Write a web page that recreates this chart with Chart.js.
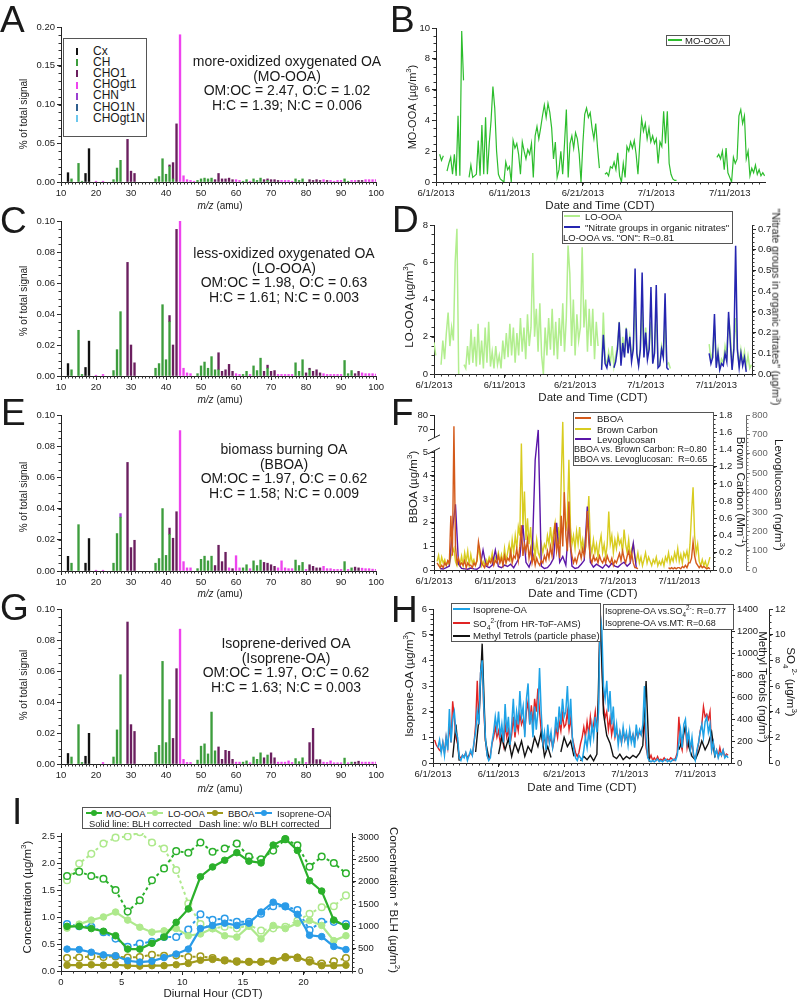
<!DOCTYPE html>
<html>
<head>
<meta charset="utf-8">
<script src="https://cdn.jsdelivr.net/npm/chart.js@4.4.0/dist/chart.umd.min.js"></script>
<style>
  body { margin:0; width:799px; height:1001px; position:relative; overflow:hidden; background:#fff;
         font-family:"Liberation Sans", Arial, sans-serif; color:#1a1a1a; }
  canvas { position:absolute; z-index:1; }
  .ov { position:absolute; z-index:2; white-space:nowrap; }
  .t { line-height:1.1; transform:translateY(-50%); }
  .c { line-height:1.1; transform:translate(-50%,-50%); }
  .v { line-height:1; transform:translate(-50%,-50%) rotate(-90deg); }
  .r { line-height:1; transform:translate(-50%,-50%) rotate(90deg); }
  .box { border:1px solid #555; background:#fff; box-sizing:border-box; }
  .letter { font-size:37px; line-height:37px; }
  .ann { font-size:14px; line-height:14.5px; text-align:center; transform:translateX(-50%); }
  .dot { width:6px; height:6px; border-radius:50%; transform:translate(-50%,-50%); }
  sub, sup { font-size:70%; line-height:0; }
</style>
</head>
<body>

<!-- panel letters -->
<div class="ov letter" style="left:0px;top:1px">A</div>
<div class="ov letter" style="left:390px;top:1px">B</div>
<div class="ov letter" style="left:0px;top:202px">C</div>
<div class="ov letter" style="left:392px;top:201px">D</div>
<div class="ov letter" style="left:1px;top:394px">E</div>
<div class="ov letter" style="left:391px;top:394px">F</div>
<div class="ov letter" style="left:0px;top:589px">G</div>
<div class="ov letter" style="left:391px;top:591px">H</div>
<div class="ov letter" style="left:12px;top:793px">I</div>

<!-- spectra annotations -->
<div class="ov ann" style="left:287px;top:54px">more-oxidized oxygenated OA<br>(MO-OOA)<br>OM:OC = 2.47, O:C = 1.02<br>H:C = 1.39; N:C = 0.006</div>
<div class="ov ann" style="left:284px;top:246px">less-oxidized oxygenated OA<br>(LO-OOA)<br>OM:OC = 1.98, O:C = 0.63<br>H:C = 1.61; N:C = 0.003</div>
<div class="ov ann" style="left:284px;top:442px">biomass burning OA<br>(BBOA)<br>OM:OC = 1.97, O:C = 0.62<br>H:C = 1.58; N:C = 0.009</div>
<div class="ov ann" style="left:286px;top:636px">Isoprene-derived OA<br>(Isoprene-OA)<br>OM:OC = 1.97, O:C = 0.62<br>H:C = 1.63; N:C = 0.003</div>

<!-- spectra axis titles -->
<div class="ov v" style="left:24px;top:114px;font-size:10px">% of total signal</div>
<div class="ov v" style="left:24px;top:301px;font-size:10px">% of total signal</div>
<div class="ov v" style="left:24px;top:497px;font-size:10px">% of total signal</div>
<div class="ov v" style="left:24px;top:685px;font-size:10px">% of total signal</div>
<div class="ov c" style="left:220px;top:205px;font-size:10px"><i>m/z</i> (amu)</div>
<div class="ov c" style="left:220px;top:399px;font-size:10px"><i>m/z</i> (amu)</div>
<div class="ov c" style="left:220px;top:593px;font-size:10px"><i>m/z</i> (amu)</div>
<div class="ov c" style="left:220px;top:788px;font-size:10px"><i>m/z</i> (amu)</div>

<!-- spectrum legend box (rows added by script) -->
<div class="ov box" style="left:63px;top:38px;width:84px;height:99px"></div>

<!-- time series axis titles -->
<div class="ov v" style="left:412px;top:107px;font-size:11px">MO-OOA (µg/m<sup>3</sup>)</div>
<div class="ov c" style="left:600px;top:205px;font-size:11.5px">Date and Time (CDT)</div>
<div class="ov v" style="left:410px;top:305px;font-size:11.5px">LO-OOA (µg/m<sup>3</sup>)</div>
<div class="ov r" style="left:776px;top:307px;font-size:10.5px">"Nitrate groups in organic nitrates" (µg/m<sup>3</sup>)</div>
<div class="ov c" style="left:593px;top:397px;font-size:11.5px">Date and Time (CDT)</div>
<div class="ov v" style="left:414px;top:487px;font-size:11.5px">BBOA (µg/m<sup>3</sup>)</div>
<div class="ov r" style="left:740px;top:492px;font-size:11.5px">Brown Carbon (Mm<sup>-1</sup>)</div>
<div class="ov r" style="left:778px;top:495px;font-size:11.5px">Levoglucosan (ng/m<sup>3</sup>)</div>
<div class="ov c" style="left:583px;top:593px;font-size:11.5px">Date and Time (CDT)</div>
<div class="ov v" style="left:410px;top:684px;font-size:11.5px">Isoprene-OA (µg/m<sup>3</sup>)</div>
<div class="ov r" style="left:762px;top:687px;font-size:11.5px">Methyl Tetrols (ng/m<sup>3</sup>)</div>
<div class="ov r" style="left:790px;top:682px;font-size:11.5px">SO<sub>4</sub><sup>2-</sup> (µg/m<sup>3</sup>)</div>
<div class="ov c" style="left:582px;top:787px;font-size:11.5px">Date and Time (CDT)</div>
<div class="ov v" style="left:28px;top:897px;font-size:11.5px">Concentration (µg/m<sup>3</sup>)</div>
<div class="ov r" style="left:393px;top:900px;font-size:11.5px">Concentration * BLH (µg/m<sup>2</sup>)</div>
<div class="ov c" style="left:213px;top:993px;font-size:11.5px">Diurnal Hour (CDT)</div>

<!-- B legend -->
<div class="ov box" style="left:666px;top:35px;width:64px;height:11px"></div>
<div class="ov" style="left:668px;top:39px;width:14px;border-top:2px solid #2dbd2d"></div>
<div class="ov t" style="left:685px;top:40.5px;font-size:9.5px">MO-OOA</div>

<!-- D legend -->
<div class="ov box" style="left:562px;top:211px;width:171px;height:33px"></div>
<div class="ov" style="left:564px;top:215px;width:16px;border-top:2px solid #b2ee8e"></div>
<div class="ov t" style="left:585px;top:216.5px;font-size:9.5px">LO-OOA</div>
<div class="ov" style="left:564px;top:226px;width:16px;border-top:2px solid #2525b0"></div>
<div class="ov t" style="left:585px;top:227.5px;font-size:9.5px">"Nitrate groups in organic nitrates"</div>
<div class="ov t" style="left:563px;top:237.5px;font-size:9.5px">LO-OOA vs. "ON": R=0.81</div>

<!-- F legend -->
<div class="ov box" style="left:573px;top:412px;width:141px;height:54px"></div>
<div class="ov" style="left:575px;top:417px;width:16px;border-top:2px solid #d45a1a"></div>
<div class="ov t" style="left:597px;top:418.5px;font-size:9.5px">BBOA</div>
<div class="ov" style="left:575px;top:428px;width:16px;border-top:2px solid #d8cc20"></div>
<div class="ov t" style="left:597px;top:429.5px;font-size:9.5px">Brown Carbon</div>
<div class="ov" style="left:575px;top:438px;width:16px;border-top:2px solid #5a16a8"></div>
<div class="ov t" style="left:597px;top:439.5px;font-size:9.5px">Levoglucosan</div>
<div class="ov t" style="left:574px;top:449.5px;font-size:9px">BBOA vs. Brown Carbon: R=0.80</div>
<div class="ov t" style="left:574px;top:460px;font-size:9px">BBOA vs. Levoglucosan:&nbsp; R=0.65</div>

<!-- H legends -->
<div class="ov box" style="left:451px;top:603px;width:150px;height:39px"></div>
<div class="ov" style="left:453px;top:608px;width:17px;border-top:2px solid #1ea2e6"></div>
<div class="ov t" style="left:473px;top:609.5px;font-size:9.5px">Isoprene-OA</div>
<div class="ov" style="left:453px;top:622px;width:17px;border-top:2px solid #e02424"></div>
<div class="ov t" style="left:473px;top:623.5px;font-size:9.5px">SO<sub>4</sub><sup>2-</sup>(from HR-ToF-AMS)</div>
<div class="ov" style="left:453px;top:635px;width:17px;border-top:2px solid #111"></div>
<div class="ov t" style="left:473px;top:636px;font-size:9.5px">Methyl Tetrols (particle phase)</div>
<div class="ov box" style="left:603px;top:604px;width:131px;height:26px"></div>
<div class="ov t" style="left:605px;top:612px;font-size:9px">Isoprene-OA vs.SO<sub>4</sub><sup>2-</sup>: R=0.77</div>
<div class="ov t" style="left:605px;top:624px;font-size:9px">Isoprene-OA vs.MT: R=0.68</div>

<!-- I legend -->
<div class="ov box" style="left:82px;top:807px;width:249px;height:22px"></div>
<div class="ov" style="left:86px;top:812px;width:16px;border-top:2px solid #2bb02b"></div>
<div class="ov dot" style="left:94px;top:813px;background:#2bb02b"></div>
<div class="ov t" style="left:106px;top:813.5px;font-size:9.5px">MO-OOA</div>
<div class="ov" style="left:147px;top:812px;width:16px;border-top:2px solid #aee98c"></div>
<div class="ov dot" style="left:155px;top:813px;background:#aee98c"></div>
<div class="ov t" style="left:168px;top:813.5px;font-size:9.5px">LO-OOA</div>
<div class="ov" style="left:207px;top:812px;width:16px;border-top:2px solid #a09a1c"></div>
<div class="ov dot" style="left:215px;top:813px;background:#a09a1c"></div>
<div class="ov t" style="left:228px;top:813.5px;font-size:9.5px">BBOA</div>
<div class="ov" style="left:255px;top:812px;width:17px;border-top:2px solid #2a9be8"></div>
<div class="ov dot" style="left:263.5px;top:813px;background:#2a9be8"></div>
<div class="ov t" style="left:277px;top:813.5px;font-size:9.5px">Isoprene-OA</div>
<div class="ov t" style="left:89px;top:823.5px;font-size:9.3px">Solid line: BLH corrected</div>
<div class="ov t" style="left:199px;top:823.5px;font-size:9.3px">Dash line: w/o BLH corrected</div>

<script>
// ---- mass spectra: [m/z, fraction] per ion family ----
const famNames = ['Cx', 'CH', 'CHO1', 'CHOgt1', 'CHN', 'CHO1N', 'CHOgt1N'];
const famColors = ['#111111', '#3d9d3d', '#6b1f5f', '#ee44ee', '#9a3fd0', '#2f5f8f', '#6cc8ee'];
const mzTicks = [10, 20, 30, 40, 50, 60, 70, 80, 90, 100];

const aCx = [[12,0.012],[17,0.011],[18,0.043]];
const aCH = [[13,0.004],[15,0.024],[16,0.001],[25,0.003],[26,0.018],[27,0.028],[37,0.004],[38,0.007],[39,0.030],[40,0.010],[41,0.020],[42,0.004],[49,0.002],[50,0.004],[51,0.005],[52,0.004],[53,0.005],[62,0.001],[63,0.003],[65,0.004],[66,0.002],[67,0.005],[69,0.002],[77,0.004],[78,0.002],[79,0.004],[91,0.004],[92,0.001]];
const aCHO1 = [[29,0.055],[30,0.014],[31,0.011],[41,0.002],[42,0.021],[43,0.075],[54,0.003],[55,0.011],[56,0.004],[57,0.004],[58,0.005],[59,0.003],[68,0.003],[69,0.002],[70,0.003],[71,0.003],[72,0.002],[81,0.003],[82,0.002],[83,0.003],[84,0.002],[86,0.002],[95,0.002],[96,0.002]];
const aCHOgt1 = [[20,0.001],[22,0.001],[44,0.190],[45,0.008],[46,0.003],[47,0.002],[48,0.001],[60,0.003],[61,0.002],[64,0.001],[73,0.002],[74,0.002],[75,0.002],[76,0.001],[85,0.003],[87,0.002],[88,0.001],[89,0.002],[90,0.002],[93,0.002],[94,0.002],[97,0.003],[98,0.003],[99,0.003],[100,0.003]];

const cCx = [[12,0.008],[17,0.0055],[18,0.0225]];
const cCH = [[13,0.004],[15,0.0295],[16,0.001],[25,0.0035],[26,0.017],[27,0.0415],[37,0.005],[38,0.008],[39,0.046],[40,0.0105],[41,0.035],[49,0.0015],[50,0.0065],[51,0.009],[52,0.005],[53,0.0125],[54,0.004],[55,0.004],[62,0.001],[63,0.003],[65,0.0065],[66,0.0035],[67,0.0115],[69,0.005],[77,0.0085],[78,0.003],[79,0.0105],[81,0.004],[91,0.010],[92,0.0015],[93,0.0035]];
const cCHO1 = [[29,0.0733],[30,0.020],[31,0.0085],[41,0.004],[42,0.020],[43,0.0946],[55,0.011],[56,0.003],[57,0.004],[58,0.0075],[59,0.003],[68,0.003],[69,0.002],[70,0.003],[71,0.0035],[80,0.002],[81,0.001],[82,0.003],[83,0.004],[84,0.002],[94,0.0015],[95,0.003]];
const cCHOgt1 = [[20,0.0005],[22,0.001],[44,0.100],[45,0.005],[46,0.002],[47,0.0015],[60,0.0015],[61,0.001],[64,0.001],[72,0.001],[73,0.001],[74,0.001],[75,0.001],[76,0.001],[85,0.0015],[86,0.001],[87,0.001],[88,0.001],[89,0.001],[90,0.001],[96,0.002],[97,0.0015],[98,0.0015],[99,0.0015],[100,0.0012]];

const eCx = [[12,0.0094],[17,0.005],[18,0.0208]];
const eCH = [[13,0.005],[15,0.0297],[25,0.005],[26,0.024],[27,0.0345],[37,0.005],[38,0.008],[39,0.040],[40,0.010],[41,0.0235],[49,0.0015],[50,0.0075],[51,0.0095],[52,0.0065],[53,0.0095],[62,0.002],[63,0.004],[65,0.0065],[66,0.0035],[67,0.007],[77,0.007],[78,0.0035],[79,0.0055],[91,0.006],[93,0.002]];
const eCHO1 = [[29,0.0696],[30,0.015],[31,0.0197],[41,0.004],[42,0.021],[43,0.038],[54,0.0035],[55,0.0165],[56,0.006],[57,0.012],[59,0.0015],[68,0.0055],[69,0.005],[70,0.004],[71,0.003],[81,0.004],[82,0.003],[83,0.002],[84,0.002],[94,0.0025],[95,0.002]];
const eCHOgt1 = [[20,0.0005],[22,0.0005],[44,0.090],[45,0.006],[46,0.002],[47,0.002],[58,0.002],[60,0.0098],[61,0.002],[64,0.0015],[72,0.002],[73,0.0065],[74,0.002],[75,0.0015],[76,0.0015],[80,0.001],[85,0.003],[86,0.0015],[87,0.0015],[88,0.001],[89,0.001],[90,0.001],[92,0.001],[96,0.0018],[97,0.0015],[98,0.0015],[99,0.0012],[100,0.001]];
const eCHN = [[27,0.0023]];

const gCx = [[12,0.0068],[17,0.005],[18,0.0198]];
const gCH = [[13,0.0045],[15,0.0254],[16,0.001],[25,0.0045],[26,0.022],[27,0.0576],[37,0.0075],[38,0.012],[39,0.0662],[40,0.0138],[41,0.0415],[49,0.0025],[50,0.0115],[51,0.013],[52,0.0065],[53,0.0335],[54,0.0085],[62,0.0012],[63,0.002],[65,0.0045],[66,0.003],[67,0.0072],[69,0.0058],[77,0.0035],[78,0.0015],[79,0.004],[91,0.0038],[93,0.0012]];
const gCHO1 = [[29,0.0916],[30,0.0254],[31,0.021],[42,0.0165],[43,0.0615],[55,0.011],[56,0.003],[57,0.0088],[58,0.0082],[59,0.003],[68,0.004],[70,0.0072],[71,0.004],[81,0.0138],[82,0.023],[83,0.0028],[84,0.0028],[94,0.0012],[95,0.0018]];
const gCHOgt1 = [[22,0.001],[44,0.087],[45,0.003],[46,0.001],[47,0.001],[60,0.0012],[61,0.0012],[64,0.0008],[72,0.0012],[73,0.0012],[74,0.0012],[75,0.002],[76,0.001],[80,0.001],[85,0.0012],[86,0.001],[87,0.002],[88,0.0008],[89,0.0008],[90,0.0008],[92,0.0008],[96,0.0012],[97,0.0012],[98,0.0012],[99,0.0012],[100,0.0012]];

// ---- time series, days since 6/1/2013 00:00 ----
const dateTicks = [0, 10, 20, 30, 40];
const dateLabels = ['6/1/2013', '6/11/2013', '6/21/2013', '7/1/2013', '7/11/2013'];

// MO-OOA (ug/m3), every 6 h from 6/1
const moVals = [
  null,null,1.8,1.4, 1.7,null,0.7,1.2, 1.6,0.5,1.8,0.4, 4.3,0.4,9.8,6.6, null,null,0.3,1.1,
  0.3,0.4,0.5,2.7, 0.4,3.7,0.5,4.2, 0.5,2.5,4.0,6.2, 4.8,2.0,0.5,0.2, 0.1,0.0,1.3,0.8,
  1.0,0.0,2.7,2.2, 2.5,1.8,0.5,2.6, 2.0,1.5,2.1,1.8, 2.5,0.3,3.0,3.6, 2.8,3.5,4.3,5.0,
  4.2,5.1,4.5,3.5, 1.5,2.6,0.3,0.8, 2.0,0.5,2.5,4.7, 0.3,2.5,3.0,2.2, 3.2,2.8,1.8,0.0,
  2.5,4.4,4.8,4.2, 4.5,3.5,2.8,3.8, 2.2,0.9,null,null, 0.5,0.6,0.4,1.0, 0.9,1.3,0.8,1.9,
  0.4,0.0,1.2,0.3, 2.3,2.0,2.6,2.2, 2.7,1.8,0.5,2.5, 4.1,3.3,3.8,2.8, 3.5,2.6,3.0,2.5,
  2.8,1.2,2.6,2.3, 4.6,2.5,4.6,1.2, 0.5,0.2,0.1,0.1, null,null,null,null, null,null,null,null,
  null,null,null,null, null,null,null,null, null,null,null,null, null,1.6,1.8,1.5, 2.0,0.8,2.2,0.6,
  0.3,0.0,1.6,1.2, 1.5,4.3,4.7,3.8, 4.3,1.5,2.0,0.4, 0.9,0.6,1.1,0.5, 0.8,0.4,0.6,0.4
];

// LO-OOA (ug/m3), every 6 h from 6/1
const loVals = [
  1.7,1.0,null,null, 0.5,1.8,0.8,2.2, 3.3,1.5,2.5,1.8, 6.0,7.8,0.0,null, null,0.5,0.3,1.5,
  0.5,2.4,0.6,2.0, 0.4,2.7,0.5,1.8, 0.3,2.5,0.6,2.8, 0.4,1.2,0.3,1.5, 0.5,1.0,0.3,1.8,
  0.8,2.2,0.9,2.7, 1.0,2.5,0.6,2.2, 1.0,3.0,1.2,2.5, 0.8,3.2,1.5,2.5, 6.5,2.0,3.5,1.2,
  3.8,1.0,0.0,2.5, 1.0,3.0,1.3,3.5, 1.0,2.8,0.8,3.0, 1.5,3.8,1.2,3.0, 6.9,5.4,1.5,4.0,
  1.0,3.2,1.8,2.5, 6.8,2.5,4.0,1.2, 3.5,1.5,3.5,0.8, 2.8,1.5,null,0.4, 3.3,0.8,0.5,1.2,
  0.6,1.5,0.4,1.0, 1.5,2.8,0.6,2.0, 1.0,2.5,1.2,2.0, 1.0,1.5,3.7,1.0, 0.5,1.5,3.5,1.0,
  2.5,1.0,1.5,2.8, 0.6,1.2,3.4,0.5, 0.5,1.5,1.0,2.8, 0.5,0.6,0.3,null, null,null,null,null,
  null,null,null,null, null,null,null,null, null,null,null,null, null,null,null,null, 1.6,0.8,1.2,2.6,
  0.5,1.3,0.3,0.8, 0.6,1.5,1.0,3.0, 2.2,0.3,1.5,3.0, 1.2,0.5,1.3,0.6, 1.2,0.4,1.0,0.3, 0.5
];

// "Nitrate groups in organic nitrates" (ug/m3), every 6 h from 6/24
const onVals = [
  null,null,null,0.02, 0.19,0.05,0.03,0.08, 0.04,null,0.03,0.06, 0.12,0.25,0.04,0.15,
  0.08,0.22,0.10,0.18, 0.06,0.12,0.51,0.10, 0.04,0.12,0.49,0.08, 0.20,0.07,0.12,0.42,
  0.05,0.10,0.43,0.03, 0.04,0.12,0.08,0.39, 0.03,0.02,null,null, null,null,null,null,
  null,null,null,null, null,null,null,null, null,null,null,null, null,null,null,null,
  0.10,0.05,0.08,0.29, 0.03,0.10,0.02,0.05, 0.04,0.10,0.06,0.30, 0.15,0.02,0.12,0.62,
  0.12,0.03,0.10,0.04, 0.08,0.01
];

// BBOA (ug/m3), every 6 h from 6/1 (broken axis above 5)
const bboaVals = [
  null,null,0.3,0.2, 0.1,0.2,0.1,0.3, 0.2,0.4,0.3,2.3, 0.6,72,1.0,0.3, 0.5,0.2,0.3,0.2,
  0.4,0.1,0.3,0.2, 0.2,0.1,0.3,0.2, 0.4,1.2,0.8,0.3, 0.2,0.1,0.3,0.2, 0.4,0.3,0.5,0.2,
  0.4,0.3,0.6,0.3, 0.5,0.2,0.6,0.3, 0.5,0.4,0.8,0.3, 0.6,0.5,0.9,0.4, 1.0,1.9,0.6,1.1,
  0.8,1.3,0.5,0.9, 0.3,0.6,0.2,0.5, 0.3,0.2,0.4,0.3, 0.6,0.4,0.8,0.5, 1.0,0.6,1.2,2.0,
  0.8,1.2,0.5,2.3, 1.0,3.3,1.5,0.8, 2.9,1.0,0.6,0.3, 0.5,0.3,0.6,0.8, 0.5,0.9,0.6,1.0,
  2.5,1.2,0.5,0.3, 0.6,0.4,0.5,0.3, 0.6,0.4,0.3,0.5, 0.3,0.6,0.4,0.3, 0.5,0.2,0.4,0.3,
  0.5,0.7,0.4,0.8, 0.5,0.3,0.6,0.8, 0.4,0.7,0.3,0.1, 0.1,0.05,null,null, null,null,null,null,
  null,null,null,null, null,null,null,null, null,null,null,null, null,0.1,0.05,0.1, 0.05,0.1,0.05,0.1,
  0.1,0.05,0.15,0.1, 0.2,0.1,0.3,0.3, 0.5,1.2,0.6,0.3, 0.2,0.1,0.2,0.1, 0.15,0.1,0.05,0.1, 0.05
];

// Brown carbon (Mm-1), every 6 h from 6/1
const brcVals = [
  null,null,0.10,0.17, 0.05,0.15,0.08,0.12, 0.05,0.10,0.06,0.15, 0.20,0.25,0.10,0.05, 0.12,0.06,0.16,0.05,
  0.20,0.10,0.22,0.05, 0.18,0.08,0.12,0.05, 0.10,0.28,0.15,0.05, 0.10,0.05,0.12,0.08, 0.15,0.10,0.20,0.08,
  0.15,0.12,0.20,0.10, 0.18,0.08,0.25,0.10, 0.20,0.30,0.15,0.35, 0.20,0.40,0.25,0.50, 0.40,1.47,0.50,0.91,
  0.35,0.60,0.30,0.50, 0.20,0.30,0.15,0.35, 0.20,0.15,0.30,0.20, 0.30,0.25,0.40,0.30, 0.50,0.30,0.45,0.55,
  0.30,0.50,0.30,1.05, 1.72,0.80,0.45,0.60, 1.28,0.50,0.30,0.40, 0.25,0.45,0.30,0.50, 0.25,0.35,0.20,0.40,
  0.55,0.86,0.30,0.20, 0.35,0.20,0.30,0.15, 0.30,0.40,0.20,0.30, 0.15,0.30,0.68,0.30, 0.40,0.20,0.35,0.25,
  0.40,0.30,0.35,0.20, 0.47,0.30,0.20,0.35, 0.15,0.25,0.30,0.15, 0.10,0.20,0.08,0.15, 0.05,0.12,0.20,0.08,
  0.15,0.10,0.05,0.12, 0.08,0.15,0.05,0.10, 0.06,0.12,0.05,0.15, 0.10,0.20,0.08,0.15, 0.10,0.20,0.12,0.25,
  0.10,0.18,0.08,0.20, 0.15,0.22,0.10,0.30, 0.66,0.96,0.40,0.20, 0.30,0.10,0.05,0.12, 0.05,0.10,0.03,0.08, 0.15
];

// Levoglucosan (ng/m3), every 12 h from 6/2
const levoVals = [
  8,5, 12,20, 206,339, 30,8, 6,4, 10,6, 4,15, 103,20, 12,25, 103,18,
  12,25, 18,30, 12,40, 70,232, 40,15, 60,568, 723,20, 8,12, 30,60, 244,40,
  70,25, 241,20, 8,12, 30,50, 327,40, 15,30, 20,10, 30,15, 35,20, 15,30,
  40,20, 35,138, 8
];

// Isoprene-OA (ug/m3), every 6 h from 6/1
const isoVals = [
  null,0.3,null,0.6, 0.9,0.4,0.8,0.3, 1.0,0.5,2.1,0.8, 1.7,2.0,1.2,1.0, 0.2,0.1,0.3,0.2,
  0.4,0.1,0.3,0.5, 0.3,0.8,1.2,2.0, 1.5,3.5,4.0,2.2, 1.0,0.3,0.1,0.2, 0.8,1.2,1.8,1.3,
  2.0,1.0,1.5,0.8, 2.3,1.2,1.8,0.7, 1.5,2.5,1.2,2.0, 1.5,2.8,1.8,2.2, 1.0,2.5,3.1,1.5,
  2.0,1.0,2.2,1.3, 2.0,3.7,2.0,0.8, 1.2,0.5,1.5,0.8, 1.2,0.6,1.0,1.8, 1.2,2.2,1.5,2.5,
  1.8,2.0,3.0,1.5, 2.5,1.0,0.5,0.2, 0.1,0.3,0.2,0.1, 0.5,1.0,0.6,1.2, 0.8,1.5,1.0,1.8,
  1.2,2.0,5.8,5.2, 3.0,2.5,3.2,2.0, 2.8,1.5,2.2,1.0, 1.5,0.7,1.2,0.8, 1.4,0.9,1.2,0.7,
  1.3,0.8,1.1,0.6, 1.5,1.0,1.3,1.1, 1.5,3.0,1.0,0.2, 0.1,0.05,0.1,0.05, 0.1,0.15,0.05,0.1,
  0.05,0.1,0.15,0.05, 0.1,0.05,0.1,0.15, 0.1,0.3,0.8,1.3, 0.6,1.5,1.7,0.8, 1.2,0.5,1.0,0.3,
  0.1,0.5,0.8,1.2, 1.5,1.0,1.6,1.8, 1.2,1.5,0.5,0.8, 0.3,0.5,0.2,0.4, 0.3,0.5,0.2,0.3, 0.2
];

// SO4 2- (ug/m3), every 6 h from 6/1
const so4Vals = [
  null,1.8,1.4,1.2, 1.0,0.9,1.6,0.8, 2.0,1.2,3.0,1.6, 4.8,3.5,2.0,1.5, 0.5,0.4,0.6,0.5,
  0.8,0.4,0.6,0.8, 0.6,1.5,3.0,6.4, 3.0,7.0,8.2,4.0, 1.8,0.6,0.3,0.6, 1.5,2.0,2.8,2.0,
  2.5,1.6,2.2,1.4, 3.0,2.0,2.6,1.5, 2.2,3.6,2.0,3.2, 2.5,3.8,3.0,3.4, 2.5,4.0,4.8,3.0,
  4.5,3.0,5.0,4.0, 5.8,4.0,2.5,1.5, 2.0,1.2,2.4,1.6, 2.0,1.2,1.8,2.8, 2.0,3.2,2.5,3.8,
  2.8,3.0,4.0,2.6, 3.5,2.0,1.4,0.8, 0.5,0.8,1.5,2.0, 2.8,2.0,3.2,2.2, 3.6,2.5,3.0,4.0,
  2.5,4.8,12.0,8.0, 4.5,3.5,4.0,2.6, 3.5,2.2,3.0,2.0, 2.6,1.8,2.4,1.6, 2.5,1.8,2.2,1.6,
  2.4,1.8,2.2,1.6, 2.5,2.0,2.4,2.2, 2.6,3.0,1.2,0.5, 0.3,0.6,0.2,0.4, 0.2,0.5,0.2,0.3,
  0.2,0.4,0.2,0.3, 0.2,0.4,0.3,0.2, 0.4,0.8,3.6,1.5, 1.0,2.4,2.8,1.2, 2.0,1.0,1.6,0.6,
  0.3,0.8,1.5,2.5, 3.0,4.4,3.6,3.8, 3.4,4.0,1.0,1.6, 0.6,1.0,0.5,1.2, 0.6,1.0,0.5,0.7, 0.6
];

// Methyl tetrols (ng/m3), every 12 h from 6/4
const mtVals = [
  50,350, 20,null, null,null, null,100, 400,1085, 200,50, null,null, 80,233, 120,220, 60,180,
  100,200, 60,150, 100,233, 150,280, 60,150, 50,null, null,100, 233,150, 200,60, null,20,
  60,30, 70,20, 80,1375, 450,250, 180,60, 40,80, 30,60, 40,70, 50,90, 160,746,
  10,null, null,null, null,null, null,null, null,120, 200,338, 150,60, 30,100, 200,120,
  180,280, 50
];

// ---- diurnal profiles ----
const hours = [0.5,1.5,2.5,3.5,4.5,5.5,6.5,7.5,8.5,9.5,10.5,11.5,12.5,13.5,14.5,15.5,16.5,17.5,18.5,19.5,20.5,21.5,22.5,23.5];
// solid: concentration * BLH (ug/m2); dash: concentration (ug/m3)
const moSolid = [1000,1000,950,890,790,490,490,620,760,1090,1390,2110,2330,2480,2650,2460,2420,2820,2960,2700,2020,1790,1140,1000];
const moDash = [1.76,1.84,1.76,1.71,1.50,1.10,1.31,1.68,1.90,2.22,2.19,2.38,2.21,2.27,2.36,2.12,2.07,2.23,2.44,2.33,1.93,2.12,2.00,1.81];
const loSolid = [960,1050,1140,1210,1320,1140,980,870,900,950,790,830,950,790,760,1000,720,1020,950,1070,1130,1020,680,790];
const loDash = [1.68,1.99,2.17,2.36,2.47,2.49,2.57,2.38,2.27,1.87,1.25,0.87,0.79,0.82,0.79,0.85,0.75,0.79,0.82,0.93,1.06,1.18,1.20,1.40];
const bbSolid = [130,130,140,130,140,120,110,120,120,140,170,240,260,230,200,200,200,230,320,310,200,120,120,130];
const bbDash = [0.24,0.25,0.27,0.26,0.27,0.25,0.26,0.30,0.28,0.29,0.26,0.27,0.24,0.20,0.18,0.17,0.17,0.19,0.25,0.24,0.20,0.14,0.18,0.24];
const isoSolid = [490,480,420,360,340,230,200,220,300,380,490,950,1020,1070,1020,1070,1320,1540,1440,1270,800,770,550,480];
const isoDash = [0.87,0.83,0.82,0.72,0.60,0.45,0.51,0.54,0.63,0.63,0.77,1.05,0.95,0.97,0.91,0.91,1.06,1.20,1.20,1.13,0.76,0.91,0.91,0.87];
const blhTicks = [0, 500, 1000, 1500, 2000, 2500, 3000];

// broken BBOA axis: 0-5 linear, then 70-80 squeezed on top
const bbTickVals = [0, 1, 2, 3, 4, 5, 5.97, 6.57];
const bbTickLabels = ['0', '1', '2', '3', '4', '5', '70', '80'];
function brk(v) { return v <= 5 ? v : 5.97 + (v - 70) * 0.06; }

Chart.defaults.font.family = '"Liberation Sans", Arial, sans-serif';
Chart.defaults.font.size = 9.5;
Chart.defaults.color = '#222';
Chart.defaults.animation = false;
Chart.defaults.plugins.legend.display = false;
Chart.defaults.plugins.tooltip.enabled = false;

// minor tick marks, per canvas id: {scaleId: [step, upTo, color]}
const minorMap = {};
const minorTicks = {
  id: 'minorTicks',
  afterDraw(chart) {
    const conf = minorMap[chart.canvas.id];
    if (!conf) return;
    const ctx = chart.ctx;
    ctx.save();
    ctx.lineWidth = 1;
    for (const id in conf) {
      const s = chart.scales[id];
      if (!s) continue;
      const step = conf[id][0];
      const top = conf[id][1] !== undefined ? conf[id][1] : s.max;
      ctx.strokeStyle = conf[id][2] || '#333';
      ctx.beginPath();
      for (let k = Math.ceil(s.min / step - 1e-6); k * step <= top + 1e-9; k++) {
        const p = Math.round(s.getPixelForValue(k * step)) + 0.5;
        if (s.isHorizontal()) { ctx.moveTo(p, s.top); ctx.lineTo(p, s.top + 2.5); }
        else if (s.position === 'left') { ctx.moveTo(s.right - 2.5, p); ctx.lineTo(s.right, p); }
        else { ctx.moveTo(s.left, p); ctx.lineTo(s.left + 2.5, p); }
      }
      ctx.stroke();
    }
    ctx.restore();
  }
};
Chart.register(minorTicks);

const axisBreak = {
  id: 'axisBreak',
  afterDraw(chart) {
    const s = chart.scales.y, ctx = chart.ctx;
    const y1 = s.getPixelForValue(5.05), y2 = s.getPixelForValue(5.6), x = s.right;
    ctx.save();
    ctx.fillStyle = '#fff';
    ctx.fillRect(x - 1.5, y2, 3, y1 - y2);
    ctx.strokeStyle = '#222';
    ctx.lineWidth = 1;
    ctx.beginPath();
    [y1, y2].forEach(y => { ctx.moveTo(x - 6, y + 3); ctx.lineTo(x + 6, y - 3); });
    ctx.stroke();
    ctx.restore();
  }
};

function mkCanvas(id, l, t, w, h) {
  const c = document.createElement('canvas');
  c.id = id; c.width = w; c.height = h;
  c.style.left = l + 'px'; c.style.top = t + 'px';
  c.style.width = w + 'px'; c.style.height = h + 'px';
  document.body.appendChild(c);
  return c;
}

function lin(o) {
  return {
    type: 'linear', position: o.pos || 'left', min: o.min, max: o.max,
    stacked: o.stacked || false, offset: false,
    afterFit: o.w ? s => { s.width = o.w; } : s => { s.height = o.h; },
    afterBuildTicks: o.at ? s => { s.ticks = o.at.map(v => ({value: v})); } : undefined,
    grid: {drawOnChartArea: false, tickLength: 4, color: o.color || '#222', offset: false},
    border: {color: o.color || '#222'},
    ticks: {stepSize: o.step, includeBounds: false, padding: 2, maxRotation: 0, autoSkip: false,
            color: o.color || '#222', callback: o.fmt || (v => v)}
  };
}

function pts(start, step, vals) {
  return vals.map((v, i) => ({x: start + i * step, y: v}));
}

function line(data, color, axis, width) {
  return {data: data, borderColor: color, backgroundColor: color, borderWidth: width || 1.2,
          pointRadius: 0, yAxisID: axis, spanGaps: false, tension: 0};
}

function spectrum(id, top, h, yMax, yStep, yMinor, sets) {
  const c = mkCanvas(id, 21, top, 365, h);
  minorMap[id] = {x: [1], y: [yMinor]};
  new Chart(c, {
    type: 'bar',
    data: {datasets: sets.map((d, i) => ({
      label: famNames[i], backgroundColor: famColors[i], barThickness: 1.7,
      data: d.map(p => ({x: p[0], y: p[1]}))
    }))},
    options: {
      responsive: false,
      layout: {padding: {top: 8, right: 8, left: 0, bottom: 0}},
      scales: {
        x: lin({pos: 'bottom', min: 10, max: 100, h: 20, at: mzTicks, stacked: true}),
        y: lin({min: 0, max: yMax, step: yStep, w: 40, stacked: true, fmt: v => v.toFixed(2)})
      }
    }
  });
}

function tsChart(id, l, t, w, h, datasets, scales, minor, plugins) {
  const c = mkCanvas(id, l, t, w, h);
  minorMap[id] = minor;
  new Chart(c, {
    type: 'line',
    data: {datasets: datasets},
    options: {
      responsive: false,
      layout: {padding: {top: 8, right: 4, left: 0, bottom: 0}},
      scales: scales
    },
    plugins: plugins || []
  });
}

function dateAxis(max) {
  return lin({pos: 'bottom', min: 0, max: max, h: 20, at: dateTicks, fmt: (v, i) => dateLabels[i]});
}

// spectrum legend rows
famNames.forEach((n, i) => {
  const y = 51.5 + i * 11.2;
  const m = document.createElement('div');
  m.className = 'ov';
  m.style.cssText = 'left:76px;top:' + (y - 3.5) + 'px;width:2px;height:7px;background:' + famColors[i];
  document.body.appendChild(m);
  const t = document.createElement('div');
  t.className = 'ov t';
  t.style.cssText = 'left:93px;top:' + y + 'px;font-size:12px';
  t.textContent = n;
  document.body.appendChild(t);
});

spectrum('cA', 19, 183, 0.20, 0.05, 0.01, [aCx, aCH, aCHO1, aCHOgt1, [], [], []]);
spectrum('cC', 213, 183, 0.10, 0.02, 0.005, [cCx, cCH, cCHO1, cCHOgt1, [], [], []]);
spectrum('cE', 407, 184, 0.10, 0.02, 0.005, [eCx, eCH, eCHO1, eCHOgt1, eCHN, [], []]);
spectrum('cG', 601, 183, 0.10, 0.02, 0.005, [gCx, gCH, gCHO1, gCHOgt1, [], [], []]);

tsChart('cB', 396, 20, 373, 182,
  [line(pts(0, 0.25, moVals), '#2dbd2d', 'y', 1.2)],
  {x: dateAxis(44.8), y: lin({min: 0, max: 10, step: 2, w: 40})},
  {x: [1], y: [0.5]});

tsChart('cD', 394, 217, 382, 177,
  [line(pts(23, 0.25, onVals), '#2525b0', 'y1', 1.5),
   line(pts(0, 0.25, loVals), '#b2ee8e', 'y', 1.5)],
  {x: dateAxis(45.07), y: lin({min: 0, max: 8, step: 2, w: 40}),
   y1: lin({pos: 'right', min: 0, max: 0.72, step: 0.1, w: 20, fmt: v => v.toFixed(1)})},
  {x: [1], y: [0.5], y1: [0.02]});

tsChart('cF', 394, 407, 382, 183,
  [line(pts(0, 0.25, bboaVals.map(v => v === null ? null : brk(v))), '#d45a1a', 'y', 1.4),
   line(pts(1, 0.5, levoVals), '#5a16a8', 'y2', 1.4),
   line(pts(0, 0.25, brcVals), '#d8cc20', 'y1', 1.4)],
  {x: dateAxis(45.5),
   y: lin({min: 0, max: 6.57, w: 40, at: bbTickVals, fmt: (v, i) => bbTickLabels[i]}),
   y1: lin({pos: 'right', min: 0, max: 1.8, step: 0.2, w: 33, fmt: v => v.toFixed(1)}),
   y2: lin({pos: 'right', min: 0, max: 800, step: 100, w: 26, color: '#666'})},
  {x: [1], y: [0.2, 5], y1: [0.05], y2: [20, 800, '#777']},
  [axisBreak]);

tsChart('cH', 393, 601, 398, 182,
  [line(pts(0, 0.25, isoVals), '#1ea2e6', 'y', 1.5),
   line(pts(3, 0.5, mtVals), '#111111', 'y1', 1.4),
   line(pts(0, 0.25, so4Vals), '#e02424', 'y2', 1.4)],
  {x: dateAxis(45.45), y: lin({min: 0, max: 6, step: 1, w: 40}),
   y1: lin({pos: 'right', min: 0, max: 1400, step: 200, w: 38}),
   y2: lin({pos: 'right', min: 0, max: 12, step: 2, w: 18})},
  {x: [1], y: [0.2], y1: [50], y2: [0.5]});

function solid(vals, color) {
  return {data: hours.map((h, i) => ({x: h, y: vals[i]})), yAxisID: 'y1', borderColor: color,
          backgroundColor: color, pointBackgroundColor: color, pointBorderColor: color,
          borderWidth: 2.2, pointRadius: 3.3, pointBorderWidth: 1, tension: 0};
}
function dash(vals, color) {
  return {data: hours.map((h, i) => ({x: h, y: vals[i]})), yAxisID: 'y', borderColor: color,
          backgroundColor: '#fff', pointBackgroundColor: '#fff', pointBorderColor: color,
          borderWidth: 2, borderDash: [3, 3], pointRadius: 3.3, pointBorderWidth: 1.5, tension: 0};
}

tsChart('cI', 21, 825, 363, 166,
  [solid(moSolid, '#2bb02b'), solid(isoSolid, '#2a9be8'), solid(loSolid, '#aee98c'), solid(bbSolid, '#a09a1c'),
   dash(moDash, '#2bb02b'), dash(isoDash, '#2a9be8'), dash(loDash, '#aee98c'), dash(bbDash, '#a09a1c')],
  {x: lin({pos: 'bottom', min: 0, max: 24, step: 5, h: 20}),
   y: lin({min: 0, max: 2.556, step: 0.5, w: 40, fmt: v => v.toFixed(1)}),
   y1: lin({pos: 'right', min: 0, max: 3090, w: 28, at: blhTicks})},
  {x: [1], y: [0.1], y1: [100]});
</script>
</body>
</html>
